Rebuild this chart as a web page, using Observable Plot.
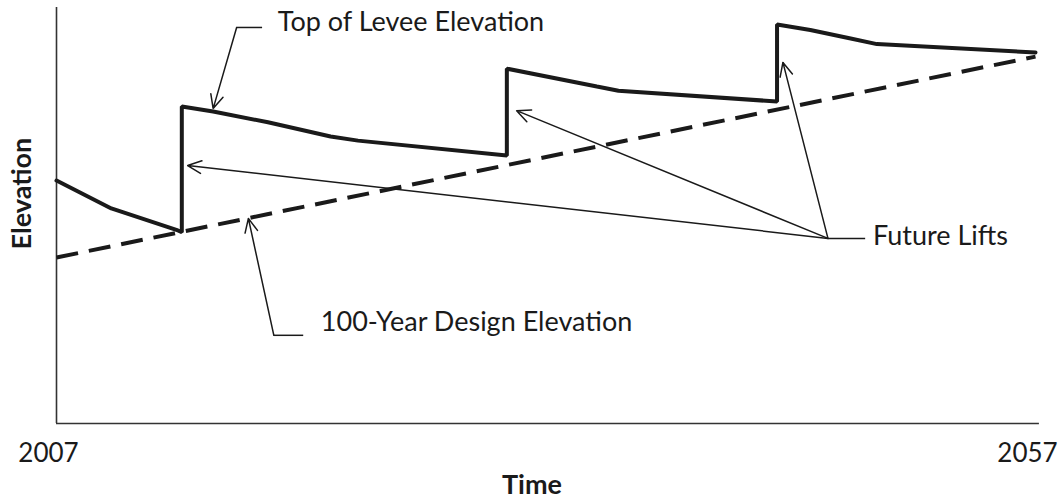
<!DOCTYPE html>
<html>
<head>
<meta charset="utf-8">
<script src="https://cdn.jsdelivr.net/npm/d3@7"></script>
<script src="https://cdn.jsdelivr.net/npm/@observablehq/plot@0.6"></script>
<style>
  html, body { margin: 0; padding: 0; background: #fff; }
  #chart svg { display: block; }
</style>
</head>
<body>
<div id="chart"></div>
<script>
// ---- Data (year, relative elevation) ----
const leveeYears = [2007, 2009.8, 2013.2, 2013.4, 2013.4, 2015.0, 2017.8, 2021.0, 2022.4, 2030.0, 2030.0, 2034.6, 2035.7, 2043.8, 2043.8, 2045.5, 2047.5, 2048.9, 2057];
const leveeElev  = [58.4, 51.7, 46.4, 46.0, 76.2, 75.0, 72.4, 69.0, 68.0, 64.4, 85.3, 81.0, 80.0, 77.4, 95.9, 94.6, 92.6, 91.2, 89.2];

const designYears = [2007, 2057];
const designElev  = [39.9, 88.2];

const tickYears = [2007, 2057];

// annotation labels
const labelText  = ["Top of Levee Elevation", "100-Year Design Elevation", "Future Lifts"];
const labelYear  = [2018.3, 2020.5, 2048.7];
const labelElev  = [96.4, 24.2, 45.1];

// leader segments (horizontal ticks next to labels)
const leaderX1 = [2017.5, 2019.6, 2046.4];
const leaderX2 = [2016.2, 2018.1, 2048.3];
const leaderY  = [95.2, 21.2, 44.5];

// arrows: start -> tip
const arrowX1 = [2016.2, 2018.1, 2046.4, 2046.4, 2046.4];
const arrowY1 = [95.2, 21.2, 44.5, 44.5, 44.5];
const arrowX2 = [2015.0, 2016.8, 2013.7, 2030.5, 2044.1];
const arrowY2 = [75.7, 49.3, 62.0, 75.2, 86.8];

// ---- Build tables ----
const levee = leveeYears.map((x, i) => ({x, y: leveeElev[i]}));
const design = designYears.map((x, i) => ({x, y: designElev[i]}));
const labels = labelText.map((t, i) => ({t, x: labelYear[i], y: labelElev[i]}));
const leaders = leaderX1.map((x1, i) => ({x1, x2: leaderX2[i], y: leaderY[i]}));
const arrows = arrowX1.map((x1, i) => ({x1, y1: arrowY1[i], x2: arrowX2[i], y2: arrowY2[i]}));

const FONT = "Lato, 'Open Sans', sans-serif";
const ink = "#1a1a1a";

const chart = Plot.plot({
  width: 1060,
  height: 501,
  marginLeft: 56,
  marginRight: 25,
  marginTop: 7,
  marginBottom: 78,
  style: {fontFamily: FONT, background: "#fff", color: ink},
  x: {domain: [2007, 2057]},
  y: {domain: [0, 100], axis: null},
  marks: [
    // axis lines
    Plot.ruleX([2007], {stroke: "#333", strokeWidth: 1.6}),
    Plot.ruleY([0], {x1: 2007, x2: 2057.2, stroke: "#333", strokeWidth: 1.6}),
    Plot.axisX({ticks: tickYears, tickSize: 0, tickPadding: 20, tickFormat: d => String(d), fontSize: 26, dx: -8, label: null, fill: ink}),
    // axis titles
    Plot.text(["Time"], {frameAnchor: "bottom", dy: 62, dx: -14, fontSize: 27, fontWeight: "bold", fill: ink, lineAnchor: "middle"}),
    Plot.text(["Elevation"], {frameAnchor: "left", rotate: -90, dx: -34, dy: 34, fontSize: 27, fontWeight: "bold", fill: ink, lineAnchor: "middle"}),
    // design line (dashed)
    Plot.line(design, {x: "x", y: "y", stroke: ink, strokeWidth: 4, strokeDasharray: "22,11", strokeLinecap: "butt"}),
    // levee line
    Plot.line(levee, {x: "x", y: "y", stroke: ink, strokeWidth: 4, strokeLinejoin: "miter"}),
    // leaders and arrows
    Plot.link(leaders, {x1: "x1", x2: "x2", y1: "y", y2: "y", stroke: ink, strokeWidth: 1.5}),
    Plot.arrow(arrows, {x1: "x1", y1: "y1", x2: "x2", y2: "y2", stroke: ink, strokeWidth: 1.5, headLength: 15, headAngle: 50}),
    // labels
    Plot.text(labels, {x: "x", y: "y", text: "t", textAnchor: "start", lineAnchor: "middle", fontSize: 27, fill: ink})
  ]
});
document.getElementById("chart").appendChild(chart);
</script>
</body>
</html>
